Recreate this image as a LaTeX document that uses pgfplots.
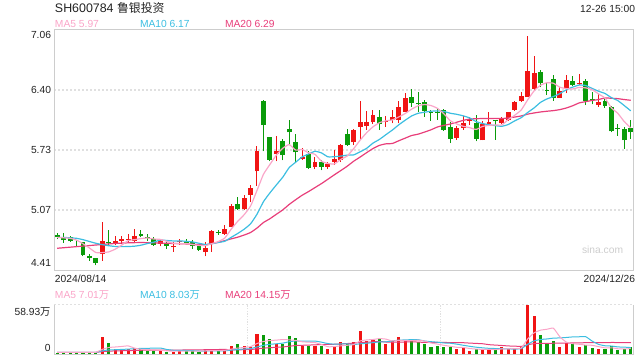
\documentclass[border=0pt]{standalone}
\usepackage{pgfplots}
\pgfplotsset{compat=1.18}
\usepackage{pgfplotstable}
\usepackage{fontspec}
\setmainfont{Liberation Sans}
\newfontfamily\cjk{Noto Sans CJK SC}
\definecolor{cRed}{RGB}{240,20,20}
\definecolor{cGreen}{RGB}{10,155,10}
\definecolor{cMa5}{RGB}{250,165,200}
\definecolor{cMa10}{RGB}{60,190,225}
\definecolor{cMa20}{RGB}{232,62,122}
\definecolor{frameC}{RGB}{205,205,205}
\definecolor{gridC}{RGB}{224,224,224}
\definecolor{txt}{RGB}{34,34,34}
\definecolor{wm}{RGB}{205,205,205}

\pgfplotstableread{
x o h l c
7 4.59 4.94 4.51 4.73
9 4.71 4.79 4.69 4.73
10 4.73 4.79 4.70 4.75
11 4.74 4.81 4.72 4.75
12 4.73 4.86 4.72 4.78
16 4.70 4.75 4.67 4.73
18 4.66 4.72 4.61 4.67
19 4.72 4.75 4.69 4.73
23 4.61 4.72 4.56 4.65
24 4.70 4.85 4.61 4.84
26 4.81 4.91 4.80 4.86
27 4.89 5.14 4.88 5.12
29 5.08 5.24 5.07 5.21
30 5.24 5.35 5.16 5.31
31 5.50 5.78 5.34 5.72
34 5.69 5.89 5.61 5.72
38 5.64 5.76 5.63 5.66
40 5.55 5.66 5.52 5.60
42 5.55 5.60 5.53 5.58
43 5.60 5.74 5.57 5.64
44 5.62 5.80 5.60 5.79
46 5.82 5.97 5.79 5.96
47 5.99 6.28 5.86 6.04
48 6.00 6.17 5.96 6.04
49 6.04 6.18 6.02 6.12
51 6.05 6.11 5.99 6.06
52 6.07 6.18 6.03 6.10
53 6.07 6.28 6.03 6.21
54 6.16 6.36 6.15 6.31
62 5.87 6.00 5.85 5.98
63 5.98 6.11 5.96 6.03
64 6.06 6.10 6.01 6.08
66 5.84 6.06 5.84 6.02
67 6.02 6.16 6.01 6.04
69 6.03 6.10 6.02 6.09
70 6.07 6.16 6.06 6.16
71 6.18 6.28 6.17 6.26
72 6.28 6.38 6.27 6.33
73 6.32 6.99 6.32 6.61
74 6.41 6.77 6.40 6.59
78 6.31 6.43 6.31 6.39
79 6.41 6.56 6.36 6.51
81 6.46 6.57 6.45 6.48
84 6.23 6.35 6.21 6.27
}\up

\pgfplotstableread{
x o h l c
0 4.80 4.82 4.75 4.77
1 4.76 4.82 4.71 4.74
2 4.77 4.79 4.72 4.73
3 4.68 4.74 4.67 4.67
4 4.72 4.72 4.56 4.58
5 4.57 4.59 4.51 4.54
6 4.54 4.54 4.46 4.49
8 4.72 4.85 4.69 4.71
13 4.81 4.85 4.77 4.78
14 4.77 4.81 4.73 4.76
15 4.75 4.77 4.68 4.69
17 4.71 4.74 4.64 4.68
20 4.73 4.75 4.70 4.71
21 4.72 4.74 4.64 4.67
22 4.68 4.69 4.62 4.63
25 4.83 4.85 4.80 4.82
28 5.14 5.22 5.07 5.08
32 6.28 6.29 5.72 6.01
33 5.88 5.88 5.61 5.63
35 5.83 5.86 5.62 5.68
36 5.97 6.07 5.79 5.93
37 5.82 5.91 5.60 5.71
39 5.69 5.72 5.53 5.54
41 5.60 5.63 5.51 5.55
45 5.91 5.97 5.78 5.79
50 6.10 6.18 5.96 6.02
55 6.32 6.41 6.21 6.25
56 6.25 6.38 6.15 6.24
57 6.27 6.29 6.10 6.17
58 6.16 6.18 6.06 6.15
59 6.16 6.19 6.07 6.15
60 6.18 6.19 5.95 5.96
61 5.99 6.04 5.81 5.86
65 6.03 6.12 5.83 5.86
68 6.07 6.07 5.85 6.05
75 6.60 6.62 6.43 6.47
76 6.40 6.48 6.34 6.39
77 6.52 6.56 6.28 6.31
80 6.50 6.55 6.44 6.45
82 6.50 6.52 6.23 6.28
83 6.30 6.38 6.24 6.29
85 6.28 6.32 6.20 6.22
86 6.21 6.22 5.93 5.94
87 5.98 6.02 5.89 5.97
88 5.97 5.99 5.75 5.84
89 5.98 6.07 5.86 5.93
}\down

\pgfplotstableread{
x a b c
0 4.770 4.770 4.650
1 4.765 4.770 4.656
2 4.760 4.765 4.662
3 4.740 4.760 4.668
4 4.700 4.745 4.674
5 4.653 4.725 4.680
6 4.603 4.705 4.686
7 4.602 4.690 4.692
8 4.610 4.678 4.698
9 4.640 4.670 4.703
10 4.684 4.668 4.707
11 4.734 4.669 4.710
12 4.745 4.673 4.712
13 4.757 4.684 4.713
14 4.763 4.702 4.712
15 4.752 4.718 4.710
16 4.748 4.741 4.708
17 4.727 4.736 4.705
18 4.705 4.731 4.703
19 4.699 4.731 4.701
20 4.703 4.727 4.698
21 4.691 4.720 4.694
22 4.682 4.705 4.689
23 4.679 4.692 4.688
24 4.701 4.700 4.701
25 4.724 4.714 4.716
26 4.763 4.727 4.734
27 4.861 4.771 4.754
28 4.947 4.813 4.772
29 5.020 4.860 4.796
30 5.116 4.920 4.824
31 5.288 5.026 4.873
32 5.466 5.164 4.934
33 5.575 5.261 4.976
34 5.678 5.349 5.025
35 5.754 5.435 5.074
36 5.795 5.541 5.134
37 5.734 5.600 5.186
38 5.741 5.658 5.235
39 5.704 5.691 5.276
40 5.687 5.721 5.320
41 5.611 5.703 5.364
42 5.586 5.660 5.412
43 5.581 5.661 5.461
44 5.631 5.668 5.508
45 5.669 5.678 5.556
46 5.750 5.681 5.611
47 5.843 5.715 5.657
48 5.925 5.753 5.705
49 5.991 5.811 5.751
50 6.036 5.852 5.786
51 6.057 5.904 5.803
52 6.067 5.955 5.807
53 6.100 6.013 5.837
54 6.138 6.064 5.866
55 6.186 6.111 5.895
56 6.223 6.140 5.910
57 6.237 6.152 5.933
58 6.226 6.163 5.958
59 6.195 6.167 5.989
60 6.135 6.161 6.007
61 6.058 6.141 6.022
62 6.022 6.129 6.042
63 5.997 6.112 6.062
64 5.982 6.089 6.077
65 5.962 6.049 6.080
66 5.995 6.027 6.083
67 6.007 6.014 6.083
68 6.011 6.004 6.084
69 6.012 5.997 6.082
70 6.072 6.017 6.089
71 6.119 6.057 6.099
72 6.177 6.092 6.111
73 6.288 6.149 6.131
74 6.388 6.200 6.144
75 6.450 6.261 6.155
76 6.478 6.299 6.163
77 6.472 6.325 6.170
78 6.428 6.358 6.181
79 6.413 6.400 6.199
80 6.409 6.430 6.224
81 6.426 6.452 6.255
82 6.421 6.447 6.269
83 6.402 6.415 6.282
84 6.354 6.384 6.292
85 6.308 6.359 6.310
86 6.200 6.313 6.306
87 6.139 6.280 6.302
88 6.048 6.225 6.292
89 5.979 6.167 6.284
}\ma

\pgfplotstableread{
x v
7 20.1
9 5.9
10 5.9
11 5.9
12 7.1
16 4.3
18 3.5
19 5.1
23 5.9
24 5.9
26 5.1
27 10.6
29 9.8
30 8.8
31 23.6
34 12.2
38 9.8
40 9.8
42 5.9
43 10.6
44 14.2
46 14.6
47 27.5
48 16.5
49 16.9
51 11.8
52 16.5
53 20.1
54 16.9
62 5.9
63 7.1
64 4.7
66 6.7
67 5.9
69 8.3
70 6.7
71 7.5
72 9.8
73 58.9
74 44.8
78 8.3
79 13.8
81 9.4
84 5.9
}\vup

\pgfplotstableread{
x v
0 2.0
1 2.4
2 2.4
3 2.4
4 2.8
5 2.8
6 2.4
8 13.0
13 5.9
14 4.3
15 3.9
17 3.2
20 3.9
21 3.9
22 3.2
25 4.3
28 11.8
32 22.4
33 17.7
35 12.2
36 21.6
37 19.3
39 9.8
41 10.6
45 13.0
50 18.1
55 16.5
56 14.2
57 11.8
58 8.3
59 10.6
60 9.4
61 8.3
65 5.9
68 5.9
75 22.4
76 13.0
77 15.7
80 13.0
82 11.0
83 7.1
85 5.9
86 9.8
87 5.1
88 5.9
89 8.3
}\vdown

\pgfplotstableread{
x a b c
0 2.4 2.4 2.4
1 2.4 2.4 2.4
2 2.4 2.4 2.4
3 2.4 2.4 2.4
4 2.4 2.45 2.45
5 2.56 2.5 2.5
6 2.56 2.55 2.55
7 6.1 4.3 3.4
8 8.22 5.4 4.0
9 8.84 5.62 4.2
10 9.46 6.01 4.4
11 10.16 6.36 4.6
12 7.56 6.83 4.8
13 6.14 7.18 5.0
14 5.82 7.33 5.1
15 5.42 7.44 5.2
16 5.1 7.63 5.3
17 4.32 5.94 5.3
18 3.84 4.99 5.3
19 4.0 4.91 5.27
20 4.0 4.71 5.36
21 3.92 4.51 5.44
22 3.92 4.12 5.48
23 4.4 4.12 5.65
24 4.56 4.28 5.81
25 4.64 4.32 5.88
26 4.88 4.4 6.02
27 6.36 5.14 5.54
28 7.54 5.97 5.48
29 8.32 6.44 5.68
30 9.22 6.93 5.82
31 12.92 8.9 6.71
32 15.28 10.82 7.47
33 16.46 12.0 8.06
34 16.94 12.63 8.46
35 17.62 13.42 8.87
36 17.22 15.07 9.74
37 16.6 15.94 10.54
38 15.02 15.74 10.86
39 14.54 15.74 11.09
40 14.06 15.84 11.39
41 11.86 14.54 11.72
42 9.18 12.89 11.86
43 9.34 12.18 12.09
44 10.22 12.38 12.51
45 10.86 12.46 12.94
46 11.66 11.76 13.42
47 15.98 12.58 14.26
48 17.16 13.25 14.5
49 17.7 13.96 14.85
50 18.72 14.79 15.32
51 18.16 14.91 14.73
52 15.96 15.97 14.43
53 16.68 16.92 14.55
54 16.68 17.19 14.79
55 16.36 17.54 15.0
56 16.84 17.5 14.63
57 15.9 15.93 14.26
58 13.54 15.11 14.18
59 12.28 14.48 14.22
60 10.86 13.61 14.2
61 9.68 13.26 14.09
62 8.5 12.2 14.09
63 8.26 10.9 13.91
64 7.08 9.68 13.44
65 6.38 8.62 13.08
66 6.06 7.87 12.69
67 6.06 7.28 11.61
68 5.82 7.04 11.08
69 6.54 6.81 10.65
70 6.7 6.54 10.08
71 6.86 6.46 9.86
72 7.64 6.85 9.53
73 18.24 12.03 11.47
74 25.54 16.04 12.86
75 28.68 17.69 13.16
76 29.78 18.32 13.1
77 30.96 19.3 13.29
78 20.84 19.54 13.29
79 14.64 20.09 13.45
80 12.76 20.72 13.63
81 12.04 20.91 13.69
82 11.1 21.03 13.94
83 10.86 15.85 13.94
84 9.28 11.96 14.0
85 7.86 10.31 14.0
86 7.94 9.99 14.16
87 6.76 8.93 14.12
88 6.52 8.69 14.12
89 7.0 8.14 14.12
}\vma

\newcommand\fs{\fontsize{7.7}{9}\selectfont}

\begin{document}
\begin{tikzpicture}
\path[use as bounding box] (0,0) rectangle (480pt,-270pt);

% ---------- price panel ----------
\begin{axis}[
  at={(40.5pt,-202.5pt)}, anchor=south west,
  width=435pt, height=180pt, scale only axis,
  xmin=-0.5, xmax=89.5, ymin=4.41, ymax=7.06,
  xtick=\empty, ytick={5.0725,5.735,6.3975}, yticklabels={},
  ymajorgrids, major tick length=0pt,
  major grid style={gridC, line width=1.1pt, dash pattern=on 1.5pt off 1.5pt},
  axis line style={frameC, line width=0.75pt},
]
% wicks
\addplot[draw=none, mark=none, error bars/.cd, y dir=plus, y explicit, error mark=none,
  error bar style={draw=cRed, line width=0.75pt}]
  table[x=x, y=l, y error expr=\thisrow{h}-\thisrow{l}] {\up};
\addplot[draw=none, mark=none, error bars/.cd, y dir=plus, y explicit, error mark=none,
  error bar style={draw=cGreen, line width=0.75pt}]
  table[x=x, y=l, y error expr=\thisrow{h}-\thisrow{l}] {\down};
% bodies
\addplot[draw=none, mark=none, error bars/.cd, y dir=plus, y explicit, error mark=none,
  error bar style={draw=cRed, line width=3.6pt}]
  table[x=x, y=o, y error expr=\thisrow{c}-\thisrow{o}] {\up};
\addplot[draw=none, mark=none, error bars/.cd, y dir=plus, y explicit, error mark=none,
  error bar style={draw=cGreen, line width=3.6pt}]
  table[x=x, y=c, y error expr=\thisrow{o}-\thisrow{c}] {\down};
% moving averages
\addplot[cMa20, line width=0.9pt, mark=none, smooth, tension=0.3] table[x=x,y=c] {\ma};
\addplot[cMa10, line width=0.9pt, mark=none, smooth, tension=0.3] table[x=x,y=b] {\ma};
\addplot[cMa5, line width=0.9pt, mark=none, smooth, tension=0.3] table[x=x,y=a] {\ma};
\end{axis}

% ---------- volume panel ----------
\begin{axis}[
  at={(40.5pt,-265.875pt)}, anchor=south west,
  width=435pt, height=37.5pt, scale only axis,
  xmin=-0.5, xmax=89.5, ymin=0, ymax=58.93,
  xtick={29.5,59.5}, xticklabels={}, xmajorgrids,
  ytick=\empty, major tick length=0pt,
  major grid style={gridC, line width=0.75pt, dash pattern=on 1pt off 1pt},
  axis line style={draw=none},
  clip mode=individual,
]
\draw[gridC, line width=1.1pt, dash pattern=on 1.5pt off 1.5pt] (rel axis cs:0,1) -- (rel axis cs:1,1);
\addplot[ycomb, draw=cRed, line width=2.4pt, mark=none] table[x=x,y=v] {\vup};
\addplot[ycomb, draw=cGreen, line width=2.4pt, mark=none] table[x=x,y=v] {\vdown};
\addplot[cMa20, line width=0.75pt, mark=none, smooth, tension=0.3] table[x=x,y=c] {\vma};
\addplot[cMa10, line width=0.75pt, mark=none, smooth, tension=0.3] table[x=x,y=b] {\vma};
\addplot[cMa5, line width=0.75pt, mark=none, smooth, tension=0.3] table[x=x,y=a] {\vma};
\draw[frameC, line width=0.75pt] (rel axis cs:0,1) -- (rel axis cs:0,0) -- (rel axis cs:1,0) -- (rel axis cs:1,1);
\end{axis}

% ---------- texts ----------
\begin{scope}[x=0.75pt, y=-0.75pt, every node/.style={inner sep=0pt, outer sep=0pt, text=txt}]
\node[anchor=base west, font=\fontsize{9.3}{11}\selectfont] at (55,12.3) {SH600784 {\cjk\fontsize{8.9}{11}\selectfont 鲁银投资}};
\node[anchor=base east, font=\fs] at (635,12.3) {12-26 15:00};
\node[anchor=base west, font=\fs, text=cMa5] at (55,27.5) {MA5 5.97};
\node[anchor=base west, font=\fs, text=cMa10] at (140,27.5) {MA10 6.17};
\node[anchor=base west, font=\fs, text=cMa20] at (225,27.5) {MA20 6.29};
\node[anchor=base east, font=\fs] at (51,38.3) {7.06};
\node[anchor=east, font=\fs] at (51,90) {6.40};
\node[anchor=east, font=\fs] at (51,150) {5.73};
\node[anchor=east, font=\fs] at (51,210) {5.07};
\node[anchor=base east, font=\fs] at (51,267) {4.41};
\node[anchor=base west, font=\fs, text=wm] at (582,253) {sina.com};
\node[anchor=base west, font=\fs] at (55,282.5) {2024/08/14};
\node[anchor=base east, font=\fs] at (635,282.5) {2024/12/26};
\node[anchor=base west, font=\fs, text=cMa5] at (55,298) {MA5 7.01{\cjk 万}};
\node[anchor=base west, font=\fs, text=cMa10] at (140,298) {MA10 8.03{\cjk 万}};
\node[anchor=base west, font=\fs, text=cMa20] at (225,298) {MA20 14.15{\cjk 万}};
\node[anchor=base east, font=\fs] at (50.5,315.5) {58.93{\cjk 万}};
\node[anchor=base east, font=\fs] at (50.5,351.7) {0};
\end{scope}
\end{tikzpicture}
\end{document}
